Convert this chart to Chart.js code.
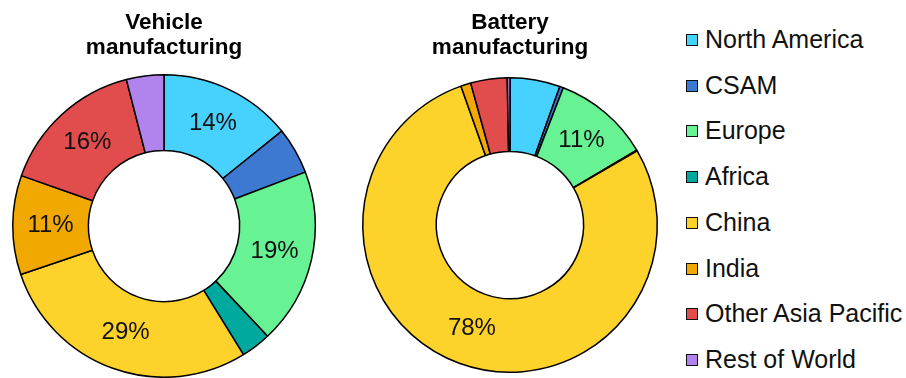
<!DOCTYPE html>
<html>
<head>
<meta charset="utf-8">
<script src="https://cdn.jsdelivr.net/npm/chart.js@4.4.1/dist/chart.umd.min.js"></script>
<style>
  body { margin: 0; background: #fff; overflow: hidden; }
  #wrap { position: relative; width: 906px; height: 378px; font-family: "Liberation Sans", Arial, sans-serif; }
  canvas { position: absolute; top: 0; }
  #vehicle { left: 0; }
  #battery { left: 345px; }
  #legend { position: absolute; left: 686px; top: 0; }
  .item { position: absolute; left: 0; height: 24px; white-space: nowrap; }
  .box { position: absolute; left: 0; top: 6px; width: 12px; height: 12px; box-sizing: border-box; border: 1.5px solid #111; }
  .txt { position: absolute; left: 19px; top: -1px; font-size: 25px; line-height: 25px; color: #111; }
</style>
</head>
<body>
<div id="wrap">
  <canvas id="vehicle" width="328" height="378"></canvas>
  <canvas id="battery" width="330" height="378"></canvas>
  <div id="legend"></div>
</div>
<script>
const regions = ['North America', 'CSAM', 'Europe', 'Africa', 'China', 'India', 'Other Asia Pacific', 'Rest of World'];
const colors = ['#47D1FF', '#3D78D1', '#67F293', '#00A99D', '#FDD22B', '#F1A800', '#E14C4C', '#B083ED'];

// shares in percent
const vehicleShare = [14.2, 5.0, 18.8, 3.2, 28.6, 10.6, 15.6, 4.0];
const batteryShare = [5.5, 0.4, 10.6, 0.1, 78.0, 1.1, 4.0, 0.3];

const fontFamily = '"Liberation Sans", Arial, sans-serif';

// writes the % on slices of 10% or more
const sliceLabels = {
  id: 'sliceLabels',
  afterDatasetsDraw(chart) {
    const ctx = chart.ctx;
    const meta = chart.getDatasetMeta(0);
    const values = chart.data.datasets[0].data;
    ctx.save();
    ctx.font = '24px ' + fontFamily;
    ctx.fillStyle = '#111';
    ctx.textAlign = 'center';
    ctx.textBaseline = 'middle';
    meta.data.forEach((arc, i) => {
      if (values[i] < 10) return;
      const p = arc.tooltipPosition();
      ctx.fillText(Math.round(values[i]) + '%', p.x, p.y);
    });
    ctx.restore();
  }
};

function makeDoughnut(id, title, values, padBottom, titlePadBottom) {
  return new Chart(document.getElementById(id), {
    type: 'doughnut',
    data: {
      labels: regions,
      datasets: [{
        data: values,
        backgroundColor: colors,
        borderColor: '#000',
        borderWidth: 1.5
      }]
    },
    options: {
      responsive: false,
      animation: false,
      devicePixelRatio: 1,
      cutout: '50%',
      layout: { padding: { bottom: padBottom } },
      plugins: {
        legend: { display: false },
        tooltip: { enabled: false },
        title: {
          display: true,
          text: title,
          color: '#000',
          font: { family: fontFamily, size: 22.5, weight: 'bold', lineHeight: 1.08 },
          padding: { top: 11, bottom: titlePadBottom }
        }
      }
    },
    plugins: [sliceLabels]
  });
}

makeDoughnut('vehicle', ['Vehicle', 'manufacturing'], vehicleShare, 0, 14.4);
makeDoughnut('battery', ['Battery', 'manufacturing'], batteryShare, 5, 17.4);

// legend
const legend = document.getElementById('legend');
regions.forEach((name, i) => {
  const item = document.createElement('div');
  item.className = 'item';
  item.style.top = (28 + i * 45.7) + 'px';
  const box = document.createElement('span');
  box.className = 'box';
  box.style.background = colors[i];
  const txt = document.createElement('span');
  txt.className = 'txt';
  txt.textContent = name;
  item.appendChild(box);
  item.appendChild(txt);
  legend.appendChild(item);
});
</script>
</body>
</html>
